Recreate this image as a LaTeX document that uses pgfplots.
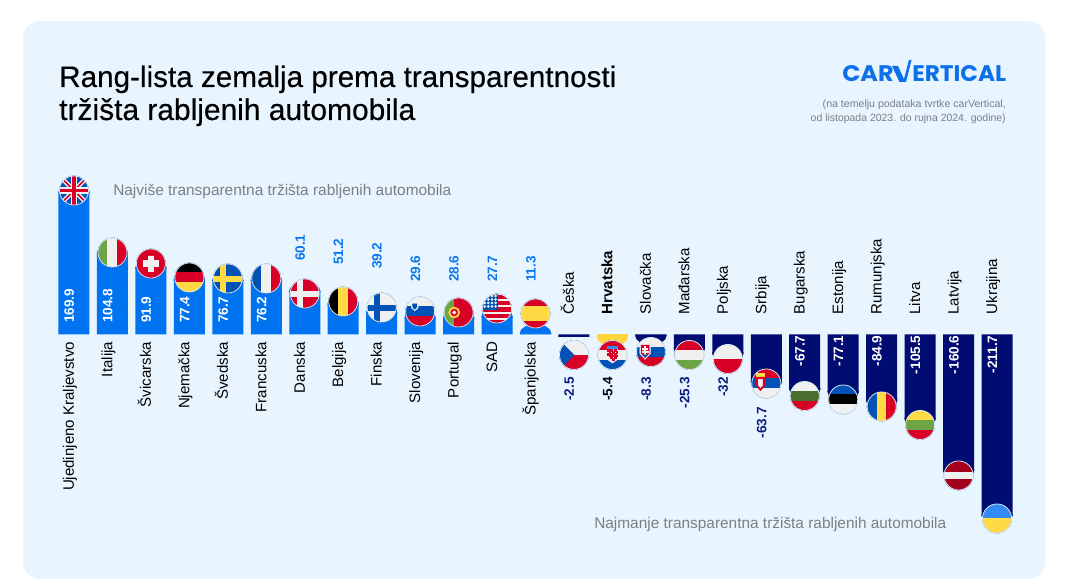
\documentclass[border=0pt]{standalone}
\usepackage{pgfplots}
\usepackage{pgfplotstable}
\usepackage{fontspec}
\usepackage{graphicx}
\pgfplotsset{compat=1.18}
\setmainfont{Liberation Sans}
\newfontfamily\titlefont[FakeBold=0.35]{Liberation Sans}
\newfontfamily\medfont[FakeBold=0.25]{Liberation Sans}
\newfontfamily\logofont{Poppins}
\definecolor{panel}{HTML}{E8F5FF}
\definecolor{barblue}{HTML}{0073F0}
\definecolor{barnavy}{HTML}{000C72}
\definecolor{bargold}{HTML}{FFD73A}
\definecolor{lblblue}{HTML}{0B76F0}
\definecolor{lblnavy}{HTML}{0A1A7E}
\definecolor{gtxt}{HTML}{7C7F84}
\definecolor{logoblue}{HTML}{0B70EA}
\definecolor{fR}{HTML}{D80027}
\definecolor{fB}{HTML}{0052B4}
\definecolor{fW}{HTML}{F0F0F0}
\definecolor{fY}{HTML}{FFDA44}
\definecolor{fG}{HTML}{6DA544}
\definecolor{fK}{HTML}{000000}
\definecolor{fDG}{HTML}{496E2D}
\definecolor{fLV}{HTML}{A2001D}
\definecolor{fUA}{HTML}{338AF3}
\definecolor{ring}{HTML}{D3E6FA}

% ---- end caps of the bars
\pgfdeclareplotmark{capupblue}{\fill[barblue] (-11.625pt,-0.2pt) -- (-11.625pt,0pt) arc[start angle=180,end angle=0,x radius=11.625pt,y radius=6.75pt] -- (11.625pt,-0.2pt) -- cycle;}
\pgfdeclareplotmark{capdownnavy}{\fill[barnavy] (-11.625pt,0.2pt) -- (-11.625pt,0pt) arc[start angle=180,end angle=360,x radius=11.625pt,y radius=6.75pt] -- (11.625pt,0.2pt) -- cycle;}
\pgfdeclareplotmark{capdowngold}{\fill[bargold] (-11.625pt,0.2pt) -- (-11.625pt,0pt) arc[start angle=180,end angle=360,x radius=11.625pt,y radius=6.75pt] -- (11.625pt,0.2pt) -- cycle;}

% ---- flags: drawn in a unit circle
\newcommand\declflag[2]{\pgfdeclareplotmark{#1}{%
  \begin{scope}[x=10.9pt,y=10.9pt]
  \begin{scope}\clip (0,0) circle (1); #2 \end{scope}
  \draw[ring,line width=.6pt] (0,0) circle (1);
  \end{scope}}}
\newcommand\band[3]{\fill[#1] (-1.1,#2) rectangle (1.1,#3);}
\newcommand\vband[3]{\fill[#1] (#2,-1.1) rectangle (#3,1.1);}

\declflag{flUK}{\band{fB}{-1.1}{1.1}
  \draw[fW,line width=3.4pt] (-1,-1)--(1,1) (-1,1)--(1,-1);
  \draw[fR,line width=1.2pt] (-1,-1)--(1,1) (-1,1)--(1,-1);
  \draw[fW,line width=5pt] (-1.1,0)--(1.1,0) (0,-1.1)--(0,1.1);
  \draw[fR,line width=2.8pt] (-1.1,0)--(1.1,0) (0,-1.1)--(0,1.1);}
\declflag{flIT}{\vband{fG}{-1.1}{-.33}\vband{fW}{-.33}{.33}\vband{fR}{.33}{1.1}}
\declflag{flCH}{\band{fR}{-1.1}{1.1}\fill[fW] (-.52,-.19) rectangle (.52,.19) (-.19,-.52) rectangle (.19,.52);}
\declflag{flDE}{\band{fK}{.33}{1.1}\band{fR}{-.33}{.33}\band{fY}{-1.1}{-.33}}
\declflag{flSE}{\band{fB}{-1.1}{1.1}\fill[fY] (-1.1,-.17) rectangle (1.1,.17) (-.5,-1.1) rectangle (-.17,1.1);}
\declflag{flFR}{\vband{fB}{-1.1}{-.33}\vband{fW}{-.33}{.33}\vband{fR}{.33}{1.1}}
\declflag{flDK}{\band{fR}{-1.1}{1.1}\fill[fW] (-1.1,-.17) rectangle (1.1,.17) (-.5,-1.1) rectangle (-.17,1.1);}
\declflag{flBE}{\vband{fK}{-1.1}{-.33}\vband{fY}{-.33}{.33}\vband{fR}{.33}{1.1}}
\declflag{flFI}{\band{fW}{-1.1}{1.1}\fill[fB] (-1.1,-.17) rectangle (1.1,.17) (-.5,-1.1) rectangle (-.17,1.1);}
\declflag{flSI}{\band{fW}{.33}{1.1}\band{fB}{-.33}{.33}\band{fR}{-1.1}{-.33}
  \fill[fW] (-.62,.62) -- (-.12,.62) -- (-.14,.25) -- (-.37,.05) -- (-.6,.25) -- cycle;
  \fill[fB] (-.52,.52) -- (-.22,.52) -- (-.24,.28) -- (-.37,.16) -- (-.5,.28) -- cycle;}
\declflag{flPT}{\vband{fG}{-1.1}{-.3}\vband{fR}{-.3}{1.1}
  \fill[fY] (-.3,0) circle (.38); \fill[fR] (-.3,0) circle (.24); \fill[fW] (-.3,0) circle (.12);}
\declflag{flUS}{\band{fW}{-1.1}{1.1}
  \foreach \yy in {.72,.28,-.16,-.6,-1.04}{\band{fR}{\yy}{\yy+.22}}
  \fill[fB] (-1.1,-.02) rectangle (0,1.1);
  \foreach \xx in {-.85,-.6,-.35,-.1}{\foreach \yy in {.14,.38,.62,.86}{\fill[fW] (\xx,\yy) circle (.07);}}}
\declflag{flES}{\band{fR}{-1.1}{1.1}\band{fY}{-.48}{.48}}
\declflag{flCZ}{\band{fW}{0}{1.1}\band{fR}{-1.1}{0}\fill[fB] (-1.1,1.1) -- (0,0) -- (-1.1,-1.1) -- cycle;}
\declflag{flHR}{\band{fR}{.33}{1.1}\band{fW}{-.33}{.33}\band{fB}{-1.1}{-.33}
  \fill[fUA] (-.35,.36) rectangle (.35,.6);
  \fill[fW] (-.36,.36) -- (.36,.36) -- (.36,-.3) -- (0,-.55) -- (-.36,-.3) -- cycle;
  \foreach \xx/\yy in {-.36/.24,-.12/.24,.12/.24,-.24/.12,0/.12,.24/.12,-.36/0,-.12/0,.12/0,-.24/-.12,0/-.12,.24/-.12,-.12/-.24,.12/-.24,0/-.36}{\fill[fR] (\xx,\yy) rectangle ++(.12,.12);}}
\declflag{flSK}{\band{fW}{.33}{1.1}\band{fB}{-.33}{.33}\band{fR}{-1.1}{-.33}
  \fill[fW] (-.76,.55) -- (-.04,.55) -- (-.04,-.1) -- (-.4,-.5) -- (-.76,-.1) -- cycle;
  \fill[fR] (-.68,.47) -- (-.12,.47) -- (-.12,-.08) -- (-.4,-.38) -- (-.68,-.08) -- cycle;
  \fill[fW] (-.44,-.2) rectangle (-.36,.4) (-.56,.16) rectangle (-.24,.24) (-.6,.0) rectangle (-.2,.08);
  \fill[fB] (-.55,-.2) -- (-.25,-.2) -- (-.4,-.36) -- cycle;}
\declflag{flHU}{\band{fR}{.33}{1.1}\band{fW}{-.33}{.33}\band{fG}{-1.1}{-.33}}
\declflag{flPL}{\band{fW}{0}{1.1}\band{fR}{-1.1}{0}}
\declflag{flRS}{\band{fR}{.33}{1.1}\band{fB}{-.33}{.33}\band{fW}{-1.1}{-.33}
  \fill[fY] (-.66,.44) rectangle (-.14,.68);
  \fill[fR] (-.7,.44) -- (-.1,.44) -- (-.1,-.14) -- (-.4,-.5) -- (-.7,-.14) -- cycle;
  \fill[fW] (-.55,.28) -- (-.25,.28) -- (-.25,-.1) -- (-.4,-.28) -- (-.55,-.1) -- cycle;}
\declflag{flBG}{\band{fW}{.33}{1.1}\band{fDG}{-.33}{.33}\band{fR}{-1.1}{-.33}}
\declflag{flEE}{\band{fB}{.33}{1.1}\band{fK}{-.33}{.33}\band{fW}{-1.1}{-.33}}
\declflag{flRO}{\vband{fB}{-1.1}{-.33}\vband{fY}{-.33}{.33}\vband{fR}{.33}{1.1}}
\declflag{flLT}{\band{fY}{.33}{1.1}\band{fG}{-.33}{.33}\band{fR}{-1.1}{-.33}}
\declflag{flLV}{\band{fLV}{.25}{1.1}\band{fW}{-.25}{.25}\band{fLV}{-1.1}{-.25}}
\declflag{flUA}{\band{fUA}{0}{1.1}\band{fY}{-1.1}{0}}

% ---- data: value as labelled; h = length of the straight bar side and
% flag = flag centre in picture pixels; lab = position of the value label
\pgfplotstableread[col sep=comma]{
x,value,h,lab,name
0,169.9,142,6.5,Ujedinjeno Kraljevstvo
1,104.8,81,6.5,Italija
2,91.9,66.5,6.5,Švicarska
3,77.4,54.5,6.5,Njemačka
4,76.7,54,6.5,Švedska
5,76.2,54,6.5,Francuska
}\posin
\pgfplotstableread[col sep=comma]{
x,value,h,lab,name
6,60.1,43,68.5,Danska
7,51.2,30.5,64.5,Belgija
8,39.2,21.5,60.5,Finska
9,29.6,16.5,47.5,Slovenija
10,28.6,16,47.5,Portugal
11,27.7,17.5,47.5,SAD
12,11.3,1,47.5,Španjolska
}\posout
\pgfplotstableread[col sep=comma]{
x,value,h,lab,name
13,-2.5,-2.5,-47.2,Češka
15,-8.3,-1,-47.2,Slovačka
16,-25.3,-13.5,-47.2,Mađarska
17,-32,-18.5,-47.2,Poljska
18,-63.7,-47,-77.2,Srbija
}\negout
\pgfplotstableread[col sep=comma]{
x,value,h,lab,name
14,-5.4,-2,-47.2,Hrvatska
}\negcro
\pgfplotstableread[col sep=comma]{
x,value,h,lab,name
19,-67.7,-54,-5.5,Bugarska
20,-77.1,-57,-5.5,Estonija
21,-84.9,-65.5,-5.5,Rumunjska
22,-105.5,-84,-5.5,Litva
23,-160.6,-135.5,-5.5,Latvija
24,-211.7,-180.5,-5.5,Ukrajina
}\negin
\pgfplotstableread[col sep=comma]{
x,y
0,-12.5
1,-12.5
2,-12.5
3,-12.5
4,-12.5
5,-12.5
6,-12.5
7,-12.5
8,-12.5
9,-12.5
10,-12.5
11,-12.5
12,-12.5
}\posy

\newcommand\labfont{\fontsize{11.3}{13}\selectfont}
\newcommand\valfont{\fontsize{10.2}{12}\selectfont\bfseries}
\pgfplotsset{
  valup/.style={draw=none,mark=none,forget plot,point meta=explicit symbolic,nodes near coords,
    nodes near coords style={rotate=90,anchor=base west,inner sep=0pt,xshift=3.6pt,yshift=0pt,font=\valfont,text=#1}},
  valdn/.style={draw=none,mark=none,forget plot,point meta=explicit symbolic,nodes near coords,
    nodes near coords style={rotate=90,anchor=base east,inner sep=0pt,xshift=3.6pt,yshift=0pt,font=\valfont,text=#1}},
  nameup/.style={draw=none,mark=none,forget plot,point meta=explicit symbolic,nodes near coords,
    nodes near coords style={rotate=90,anchor=base west,inner sep=0pt,xshift=4pt,yshift=0pt,font=\labfont#1,text=black}},
  namedn/.style={draw=none,mark=none,forget plot,point meta=explicit symbolic,nodes near coords,
    nodes near coords style={rotate=90,anchor=base east,inner sep=0pt,xshift=4pt,yshift=0pt,font=\labfont,text=black}},
  pbar/.style={ybar,bar shift=0pt,bar width=23.25pt,fill=#1,draw=none,forget plot},
}

\begin{document}
\begin{tikzpicture}
\path[use as bounding box,fill=white] (0,0) rectangle (801pt,435pt);
\begin{scope}[x=.75pt,y=-.75pt,yshift=435pt]
\fill[panel,rounded corners=13pt] (23,21) rectangle (1045,579);
\end{scope}
\begin{axis}[at={(0,0)},anchor=south west,scale only axis,width=801pt,height=435pt,
  hide axis,clip=false,
  xmin=-1.924,xmax=25.845,ymin=-245.5,ymax=334.5]
% bars
\addplot[pbar=barblue] table[x=x,y=h]{\posin};
\addplot[pbar=barblue] table[x=x,y=h]{\posout};
\addplot[pbar=barnavy] table[x=x,y=h]{\negout};
\addplot[pbar=bargold] table[x=x,y=h]{\negcro};
\addplot[pbar=barnavy] table[x=x,y=h]{\negin};
% rounded ends
\addplot[only marks,mark=capupblue,forget plot] table[x=x,y=h]{\posin};
\addplot[only marks,mark=capupblue,forget plot] table[x=x,y=h]{\posout};
\addplot[only marks,mark=capdownnavy,forget plot] coordinates {(15,-1)(16,-13.5)(17,-18.5)(18,-47)};
\addplot[only marks,mark=capdowngold,forget plot] table[x=x,y=h]{\negcro};
\addplot[only marks,mark=capdownnavy,forget plot] table[x=x,y=h]{\negin};
% flags
\addplot[only marks,forget plot,mark=flUK] coordinates {(0,144)};
\addplot[only marks,forget plot,mark=flIT] coordinates {(1,82)};
\addplot[only marks,forget plot,mark=flCH] coordinates {(2,71)};
\addplot[only marks,forget plot,mark=flDE] coordinates {(3,57)};
\addplot[only marks,forget plot,mark=flSE] coordinates {(4,56)};
\addplot[only marks,forget plot,mark=flFR] coordinates {(5,56)};
\addplot[only marks,forget plot,mark=flDK] coordinates {(6,41)};
\addplot[only marks,forget plot,mark=flBE] coordinates {(7,33)};
\addplot[only marks,forget plot,mark=flFI] coordinates {(8,27)};
\addplot[only marks,forget plot,mark=flSI] coordinates {(9,23)};
\addplot[only marks,forget plot,mark=flPT] coordinates {(10,22)};
\addplot[only marks,forget plot,mark=flUS] coordinates {(11,26)};
\addplot[only marks,forget plot,mark=flES] coordinates {(12,21)};
\addplot[only marks,forget plot,mark=flCZ] coordinates {(13,-20.5)};
\addplot[only marks,forget plot,mark=flHR] coordinates {(14,-20.5)};
\addplot[only marks,forget plot,mark=flSK] coordinates {(15,-17.5)};
\addplot[only marks,forget plot,mark=flHU] coordinates {(16,-20.5)};
\addplot[only marks,forget plot,mark=flPL] coordinates {(17,-24.5)};
\addplot[only marks,forget plot,mark=flRS] coordinates {(18,-49)};
\addplot[only marks,forget plot,mark=flBG] coordinates {(19,-61.5)};
\addplot[only marks,forget plot,mark=flEE] coordinates {(20,-65)};
\addplot[only marks,forget plot,mark=flRO] coordinates {(21,-72)};
\addplot[only marks,forget plot,mark=flLT] coordinates {(22,-90.5)};
\addplot[only marks,forget plot,mark=flLV] coordinates {(23,-141)};
\addplot[only marks,forget plot,mark=flUA] coordinates {(24,-184)};
% value labels
\addplot[valup=white] table[x=x,y=lab,meta=value]{\posin};
\addplot[valup=lblblue] table[x=x,y=lab,meta=value]{\posout};
\addplot[valdn=lblnavy] table[x=x,y=lab,meta=value]{\negout};
\addplot[valdn=black] table[x=x,y=lab,meta=value]{\negcro};
\addplot[valdn=white] table[x=x,y=lab,meta=value]{\negin};
% category names
\addplot[namedn] table[x=x,y expr=-12.5,meta=name]{\posin};
\addplot[namedn] table[x=x,y expr=-12.5,meta=name]{\posout};
\addplot[nameup=] table[x=x,y expr=14.5,meta=name]{\negout};
\addplot[nameup=\bfseries] table[x=x,y expr=14.5,meta=name]{\negcro};
\addplot[nameup=] table[x=x,y expr=14.5,meta=name]{\negin};
\end{axis}
\begin{scope}[x=.75pt,y=-.75pt,yshift=435pt]
\node[anchor=base west,inner sep=0pt] at (59,87) {\resizebox{417.75pt}{!}{\titlefont Rang-lista zemalja prema transparentnosti}};
\node[anchor=base west,inner sep=0pt] at (59,120) {\resizebox{267pt}{!}{\titlefont tržišta rabljenih automobila}};
\node[anchor=base west,inner sep=0pt,text=gtxt] at (113,196) {\resizebox{253.5pt}{!}{Najviše transparentna tržišta rabljenih automobila}};
\node[anchor=base west,inner sep=0pt,text=gtxt] at (594,529) {\resizebox{264pt}{!}{Najmanje transparentna tržišta rabljenih automobila}};
\node[anchor=base east,inner sep=0pt,text=gtxt] at (1006,108) {\resizebox{137.25pt}{!}{(na temelju podataka tvrtke carVertical,}};
\node[anchor=base east,inner sep=0pt,text=gtxt] at (1006,122) {\resizebox{146.25pt}{!}{od listopada 2023. do rujna 2024. godine)}};
% logo
\node[anchor=south west,inner sep=0pt,text=logoblue] at (842,82) {\resizebox{38.5pt}{12pt}{\logofont\bfseries CAR}};
\node[anchor=south west,inner sep=0pt,text=logoblue] at (912,82) {\resizebox{70.5pt}{12pt}{\logofont\bfseries ERTICAL}};
\fill[logoblue] (892,66) -- (898,66) -- (904,79) -- (909,60) -- (911.5,60) -- (906,82) -- (899.5,82) -- cycle;
\end{scope}
\end{tikzpicture}
\end{document}
